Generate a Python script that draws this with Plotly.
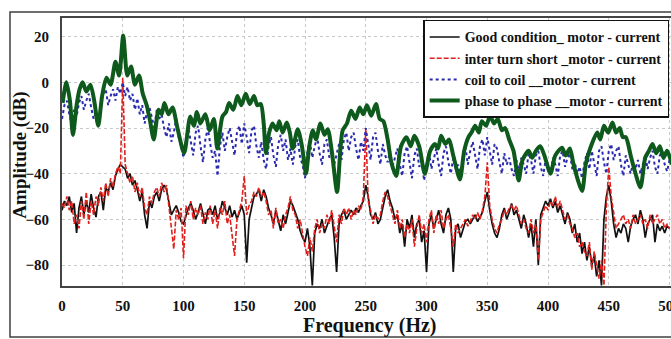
import numpy as np
import plotly.graph_objects as go

# ---- data ----
freq = np.arange(0, 501, 2)  # sampling grid, Hz

good_db = [
    -56, -52, -54, -50, -57, -53, -66, -55, -50, -58,
    -52, -57, -49, -55, -59, -50, -48, -56, -46, -48,
    -44, -47, -41, -38, -36, -37, -38, -42, -40, -45,
    -43, -47, -52, -48, -58, -64, -52, -55, -50, -48,
    -52, -47, -45, -47, -52, -58, -56, -54, -57, -61,
    -62, -58, -55, -53, -56, -60, -57, -53, -58, -62,
    -56, -55, -58, -54, -60, -57, -52, -55, -58, -54,
    -59, -56, -60, -57, -54, -58, -79, -60, -55, -50,
    -49, -47, -52, -47, -50, -55, -58, -62, -56, -60,
    -65, -58, -62, -57, -52, -54, -57, -60, -65, -68,
    -70, -64, -72, -89, -66, -62, -64, -60, -66, -63,
    -60, -58, -68, -83, -62, -58, -56, -60, -58, -56,
    -58, -55, -57, -54, -52, -45, -50, -58, -60, -57,
    -62, -60, -55, -50, -47, -52, -55, -60, -58, -66,
    -62, -72, -60, -64, -58, -68, -62, -60, -70, -65,
    -83, -62, -58, -64, -60, -56, -62, -66, -58, -55,
    -60, -83, -64, -62, -68, -64, -61, -60, -62, -60,
    -58, -61, -59, -57, -52, -48, -56, -62, -66, -68,
    -64, -58, -55, -60, -57, -53, -58, -56, -60, -64,
    -58, -62, -68, -62, -72, -60, -80, -58, -55, -52,
    -54, -51, -55, -52, -57, -54, -58, -62, -57, -60,
    -66, -62, -70, -66, -75, -70, -78, -72, -80, -76,
    -85, -78, -89, -60, -50, -45, -52, -62, -68, -64,
    -66, -62, -64, -70, -63, -60, -58, -62, -56, -60,
    -68, -62, -60, -58, -70, -62, -65, -63, -66, -63,
    -64,
]

interturn_db = [
    -53, -55, -50, -56, -52, -62, -58, -64, -52, -60,
    -48, -62, -52, -58, -50, -54, -46, -52, -44, -50,
    -42, -46, -40, -37, -40, 2, -36, -40, -44, -41,
    -48, -44, -50, -46, -55, -58, -50, -53, -48, -46,
    -50, -44, -48, -45, -55, -62, -73, -56, -60, -55,
    -77, -54, -58, -52, -60, -55, -58, -54, -62, -57,
    -60, -54, -62, -56, -64, -55, -58, -52, -62, -58,
    -68, -76, -60, -56, -52, -41, -58, -54, -52, -48,
    -50, -46, -50, -48, -52, -58, -56, -64, -55, -62,
    -60, -64, -58, -55, -50, -56, -58, -64, -60, -66,
    -72, -76, -68, -74, -64, -60, -66, -62, -64, -58,
    -62, -56, -64, -70, -58, -62, -55, -58, -55, -60,
    -56, -58, -54, -56, -50, -20, -52, -56, -62, -58,
    -60, -58, -52, -48, -50, -54, -58, -62, -56, -64,
    -60, -68, -62, -66, -60, -72, -64, -58, -66, -62,
    -70, -60, -56, -66, -58, -62, -56, -64, -60, -58,
    -64, -72, -62, -66, -64, -62, -60, -63, -61, -58,
    -60, -57, -60, -56, -50, -35, -54, -60, -64, -66,
    -62, -60, -56, -58, -55, -54, -56, -54, -58, -62,
    -60, -64, -66, -60, -66, -62, -78, -60, -57, -54,
    -56, -52, -54, -50, -55, -52, -56, -60, -58, -62,
    -64, -68, -66, -72, -70, -74, -76, -70, -82, -74,
    -80, -86, -78, -89, -55, -37, -50, -58, -64, -62,
    -60, -58, -62, -60, -64, -58, -62, -60, -58, -62,
    -60, -64, -58, -62, -60, -58, -62, -60, -64, -62,
    -64,
]

coil_db = [
    -16, -10, -8, -14, -18, -12, -15, -9, -6, -12,
    -8, -5, -11, -16, -13, -17, -9, -5, -3, -10,
    -6, -3, -8, -2, -5, 0, -6, -2, -8, -5,
    -12, -7, -14, -10, -18, -13, -11, -16, -20, -12,
    -16, -14, -20, -24, -18, -26, -22, -16, -24, -28,
    -33, -25, -20, -26, -32, -22, -19, -28, -35, -25,
    -20, -27, -33, -30, -41, -28, -22, -30, -24, -20,
    -26, -32, -22, -19, -27, -18, -24, -31, -21, -19,
    -28, -33, -26, -34, -38, -28, -24, -32, -37, -27,
    -23, -30, -25, -34, -29, -36, -28, -25, -33, -36,
    -42, -30, -26, -33, -28, -24, -31, -36, -27, -25,
    -33, -30, -36, -32, -27, -34, -25, -22, -30, -24,
    -22, -29, -34, -26, -30, -20, -28, -34, -24, -22,
    -30, -36, -27, -32, -35, -30, -37, -33, -29, -36,
    -41, -31, -28, -35, -42, -32, -29, -37, -34, -43,
    -36, -30, -38, -33, -29, -36, -41, -31, -28, -35,
    -40, -33, -38, -36, -42, -33, -28, -36, -30, -26,
    -33, -38, -28, -25, -32, -24, -30, -36, -27, -29,
    -35, -40, -31, -36, -33, -38, -41, -34, -39, -33,
    -36, -40, -31, -34, -40, -32, -30, -37, -41, -34,
    -38, -40, -33, -36, -41, -32, -30, -37, -33, -31,
    -38, -35, -40, -37, -42, -35, -31, -38, -30, -36,
    -41, -30, -28, -35, -40, -30, -27, -34, -30, -28,
    -36, -41, -32, -36, -40, -35, -38, -34, -40, -36,
    -32, -38, -33, -30, -37, -40, -32, -30, -36, -39,
    -34,
]

phase_f = [0.5, 3.6, 6.5, 9, 12, 14.5, 17, 20, 23.4, 26.5, 29.8, 33, 36.6, 40, 44, 47,
           50.4, 53.7, 56.8, 60, 63.4, 66.5, 69.7, 72.5, 75.5, 79.5, 82, 84.3, 87.6, 91,
           95, 100.5, 105.5, 108.5, 111, 113.8, 118, 121.5, 125, 127.8, 132, 135, 137.5,
           141, 144.4, 147.6, 151.2, 154.5, 158, 160.7, 163.6, 166, 167.8, 170.5, 173.3,
           176.6, 178.8, 181.5, 185, 187.5, 189.8, 194, 197.5, 200.8, 203.5, 206.4, 209,
           212.7, 216, 218.7, 222, 226.4, 229, 231, 234.5, 238, 241.5, 245, 248, 251,
           254.5, 258.4, 261.5, 264.5, 268, 271, 275, 279, 283.5, 287, 290, 294, 298.6,
           303, 307, 309.5, 312, 315.5, 318.5, 322, 327.5, 331, 334.5, 337, 340, 343,
           345.5, 349, 352.3, 355.5, 358.7, 362, 364.7, 368, 371.6, 375.8, 379, 384, 387,
           390, 393.6, 397, 402, 406, 411.6, 414.5, 418, 421, 428, 431, 434, 440.5, 443,
           446, 449.5, 453, 456, 459, 461.5, 464, 468, 471, 476, 480, 483, 486, 489, 492,
           495, 498, 502]
phase_db = [-9, 0, -8, -23, -10, -3, 0, -4, -1, -8, -19, -6, 2, -1, 9, 3,
            20.5, 3, 7, -1, 3, -5, -10, -17, -25, -12, -14, -9, -14, -11,
            -20, -31, -15, -19, -13, -18, -14, -21, -16, -29, -15, -13, -9,
            -12, -6, -10, -5, -9.5, -6, -10, -9.5, -18, -31, -22, -18,
            -21, -17, -22, -17.6, -22, -29, -20.5, -28, -40, -28, -21, -25,
            -18, -23, -20.5, -30, -48, -30, -21, -18, -12.4, -16, -11, -14, -10,
            -14.6, -9.5, -16, -17, -25, -35, -41, -28, -24, -28, -23.4, -28, -40,
            -30, -27, -29, -23.4, -27, -25, -32, -42.5, -30, -24, -22, -19, -22,
            -17, -19, -14.6, -18, -16, -21, -20, -25, -30, -43, -34, -30, -33,
            -30, -28, -32, -40, -32, -28.6, -32, -29, -36, -47.6, -36, -30, -22, -25,
            -19, -22, -17.6, -22, -20, -24, -24, -32, -38, -46, -33, -30, -27, -31, -28,
            -33, -30, -36]

x_ticks = [0, 50, 100, 150, 200, 250, 300, 350, 400, 450, 500]
y_ticks = [-80, -60, -40, -20, 0, 20]

names = ["Good condition_ motor - current",
         "inter turn short _motor - current",
         "coil to coil __motor - current",
         "phase to phase __motor - current"]
x_title = "Frequency (Hz)"
y_title = "Amplitude (dB)"

FONT = "Liberation Serif"

fig = go.Figure()
fig.add_trace(go.Scatter(x=freq, y=good_db, mode="lines", name=names[0],
                         line=dict(color="#111111", width=1.7)))
fig.add_trace(go.Scatter(x=freq, y=interturn_db, mode="lines", name=names[1],
                         line=dict(color="#e0201c", width=1.6, dash="5px,2px")))
fig.add_trace(go.Scatter(x=freq, y=coil_db, mode="lines", name=names[2],
                         line=dict(color="#2a2ab0", width=2, dash="dot")))
fig.add_trace(go.Scatter(x=phase_f, y=phase_db, mode="lines", name=names[3],
                         line=dict(color="#0d5a1c", width=4, shape="spline", smoothing=0.7)))

fig.update_layout(
    width=671, height=339,
    margin=dict(l=62, r=0, t=18, b=53, autoexpand=False),
    paper_bgcolor="white", plot_bgcolor="white",
    font=dict(family=FONT, size=15, color="#111111"),
    showlegend=True,
    legend=dict(x=0.997, xanchor="right", y=0.993, yanchor="top",
                bgcolor="white", bordercolor="#111111", borderwidth=1.5,
                font=dict(family=FONT, size=14, color="#111111", weight="bold"),
                tracegroupgap=0, itemwidth=30),
    shapes=[dict(type="rect", xref="paper", yref="paper",
                 x0=-0.0854, x1=1.05, y0=-0.190, y1=1.0224,
                 line=dict(color="#404040", width=1.5), layer="below")],
    annotations=[
        dict(text=x_title, xref="paper", yref="paper", x=0.505, y=-0.148,
             xanchor="center", yanchor="middle", showarrow=False,
             font=dict(family=FONT, size=20, weight="bold", color="#111111")),
        dict(text=y_title, xref="paper", yref="paper", x=-0.069, y=0.49,
             xanchor="center", yanchor="middle", showarrow=False, textangle=-90,
             font=dict(family=FONT, size=19, weight="bold", color="#111111")),
    ],
)
fig.update_xaxes(range=[0, 501.2], tickvals=x_ticks, automargin=False,
                 showgrid=True, gridcolor="#c8c8c8", griddash="dot", gridwidth=1,
                 showline=True, linecolor="#444444", linewidth=2, mirror=True,
                 zeroline=False, ticks="", ticklabelstandoff=5,
                 ticklabeloverflow="allow",
                 tickfont=dict(family=FONT, size=15, weight="bold"))
fig.update_yaxes(range=[-89.2, 28.2], tickvals=y_ticks, automargin=False,
                 showgrid=True, gridcolor="#c8c8c8", griddash="dot", gridwidth=1,
                 showline=True, linecolor="#444444", linewidth=2, mirror=True,
                 zeroline=False, ticks="", ticklabelstandoff=8,
                 tickfont=dict(family=FONT, size=15, weight="bold"))

fig.write_html("out.html", config={"displayModeBar": False},
               post_script="document.body.style.margin='0';document.body.style.overflow='hidden';")
